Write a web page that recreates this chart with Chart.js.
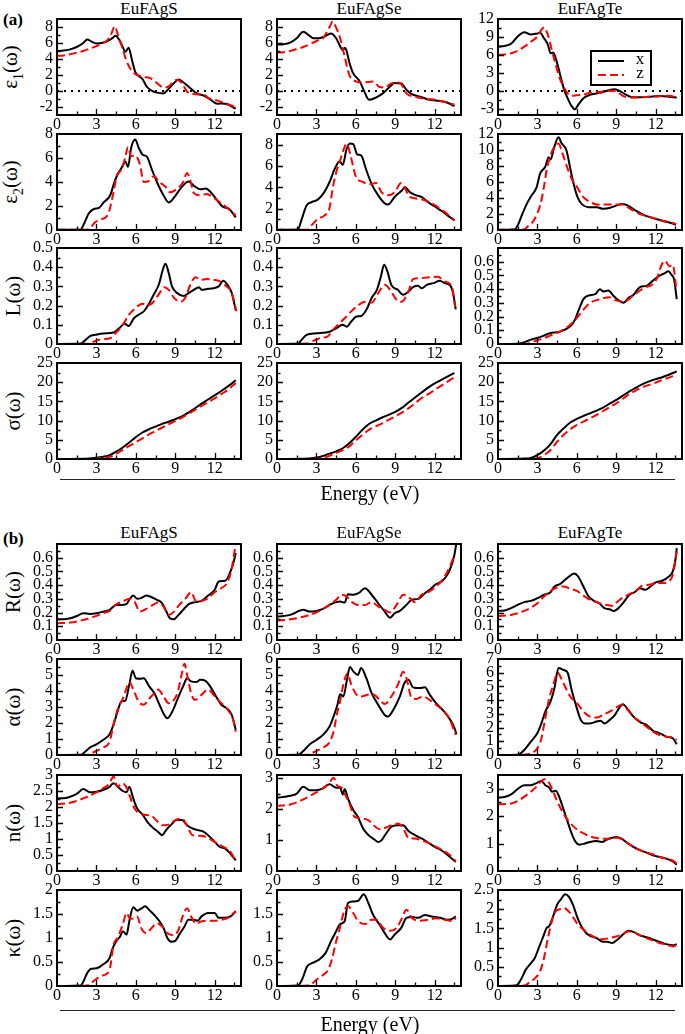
<!DOCTYPE html>
<html>
<head>
<meta charset="UTF-8">
<title>Optical spectra EuFAgX</title>
<script src="https://cdn.jsdelivr.net/npm/chart.js@4.4.1/dist/chart.umd.min.js"></script>
<style>
  body { margin:0; padding:0; background:#fff; }
  #page { position:relative; width:685px; height:1034px; overflow:hidden;
          font-family:'Liberation Serif','Times New Roman',serif; color:#000; }
  #page canvas { position:absolute; }
  .txt { position:absolute; white-space:nowrap; line-height:1; }
  .title { font-size:17px; transform:translate(-50%,-50%); }
  .panel { font-size:17px; font-weight:bold; transform:translate(0,-50%); }
  .ylab { font-size:21px; transform:translate(-50%,-50%) rotate(-90deg); }
  .ylab sub { font-size:14px; }
  .energy { font-size:20px; transform:translate(-50%,-50%); }
  .rule { position:absolute; height:1px; background:#222; }
</style>
</head>
<body>
<div id="page"></div>
<script>
// ---- data (energy in eV) ----
const compounds = ['EuFAgS', 'EuFAgSe', 'EuFAgTe'];
const seriesNames = ['x', 'z'];
const energyTicks = [0, 3, 6, 9, 12];

// eps1
const eps1_S_x = [[0,5.0],[0.5,5.05],[1,5.2],[1.5,5.5],[2,6.0],[2.3,6.45],[2.6,6.2],[3.0,5.95],[3.4,6.0],[3.8,6.2],[4.2,6.6],[4.45,6.9],[4.8,6.2],[5.0,5.5],[5.2,4.9],[5.45,5.4],[5.7,3.9],[5.95,2.4],[6.2,1.9],[6.5,1.5],[6.85,0.5],[7.2,0.05],[7.6,-0.2],[8.1,-0.3],[8.4,0.1],[8.9,1.0],[9.25,1.45],[9.6,1.1],[10.15,0.35],[10.65,-0.3],[11.2,-0.6],[11.7,-1.1],[12.2,-1.6],[12.55,-1.55],[12.95,-1.65],[13.6,-2.2]];
const eps1_S_z = [[0,4.4],[0.5,4.45],[1,4.6],[1.5,4.8],[2,5.0],[2.5,5.3],[3,5.6],[3.5,6.0],[3.8,6.3],[4.1,7.0],[4.4,8.1],[4.6,7.2],[4.95,5.5],[5.3,3.7],[5.7,2.5],[6.1,2.0],[6.6,1.75],[7.1,1.6],[7.6,1.0],[8.1,0.45],[8.4,0.5],[8.9,1.2],[9.1,1.4],[9.5,1.0],[9.9,-0.1],[10.3,-0.35],[10.8,-0.45],[11.2,-0.5],[11.55,-0.9],[12.2,-1.2],[12.9,-1.6],[13.6,-2.0]];
const eps1_Se_x = [[0,5.8],[0.5,5.85],[1,6.05],[1.5,6.6],[2.0,7.4],[2.4,7.0],[2.75,6.6],[3.2,6.6],[3.6,6.8],[4.1,7.2],[4.5,6.6],[4.8,5.6],[5.0,5.1],[5.15,5.4],[5.3,5.0],[5.5,3.6],[5.8,2.2],[6.3,1.2],[6.6,0.1],[7.0,-1.1],[7.55,-0.8],[8.05,-0.3],[8.6,0.55],[8.95,1.0],[9.45,0.95],[9.85,0.15],[10.25,-0.4],[10.9,-0.7],[11.6,-1.1],[12.1,-1.2],[12.9,-1.4],[13.5,-1.9]];
const eps1_Se_z = [[0,4.8],[0.5,4.85],[1,5.0],[1.5,5.25],[2,5.5],[2.5,5.85],[3,6.25],[3.5,6.6],[4.0,8.0],[4.25,8.7],[4.5,7.9],[4.77,6.8],[5.15,4.3],[5.5,2.0],[6.0,1.2],[6.5,1.05],[7.3,1.2],[7.8,0.5],[8.2,0.45],[8.6,0.85],[9.1,1.1],[9.5,0.75],[9.85,-0.3],[10.5,-0.7],[11.4,-1.0],[12.1,-1.1],[12.9,-1.45],[13.5,-1.7]];
const eps1_Te_x = [[0,7.4],[0.5,7.5],[1,7.9],[1.5,9.1],[2.0,9.8],[2.5,9.4],[3.0,9.6],[3.2,9.7],[3.5,8.8],[3.8,7.7],[4.0,6.3],[4.2,6.4],[4.5,4.6],[4.8,2.1],[5.0,0.4],[5.3,-1.2],[5.6,-2.5],[5.85,-3.05],[6.1,-2.3],[6.5,-1.2],[7.0,-0.65],[7.5,-0.4],[8.0,-0.17],[8.5,0.17],[8.8,0.28],[9.2,0.06],[9.7,-0.56],[10.2,-1.05],[10.8,-1.05],[11.5,-0.95],[12.3,-0.85],[13.0,-0.95],[13.6,-1.1]];
const eps1_Te_z = [[0,6.0],[0.5,6.1],[1,6.3],[1.5,6.7],[2,7.4],[2.5,8.2],[3.0,9.1],[3.3,10.2],[3.5,10.6],[3.8,9.3],[4.1,6.8],[4.4,4.3],[4.7,2.1],[5.0,0.7],[5.3,-0.4],[5.6,-0.8],[6.0,-0.7],[6.5,-0.6],[7.0,-0.3],[7.5,-0.2],[8.0,-0.1],[8.5,0.06],[9.0,-0.1],[9.5,-0.8],[10.0,-1.1],[10.5,-1.1],[11.0,-1.0],[12.0,-0.9],[13.0,-0.8],[13.6,-1.05]];

// eps2
const eps2_S_x = [[0,0.02],[1,0.03],[1.8,0.05],[2.05,0.5],[2.4,1.35],[2.8,1.75],[3.2,1.85],[3.55,2.3],[4.05,2.9],[4.4,4.1],[4.7,4.8],[4.95,5.25],[5.2,5.7],[5.4,5.25],[5.65,6.9],[5.95,7.55],[6.2,6.9],[6.5,6.3],[6.85,6.1],[7.2,5.1],[7.6,4.0],[8.1,2.9],[8.5,2.3],[8.9,2.7],[9.5,3.6],[10.0,4.05],[10.4,3.7],[10.9,3.4],[11.3,3.45],[11.7,3.15],[12.2,2.45],[12.6,1.95],[13.1,1.75],[13.6,1.05]];
const eps2_S_z = [[0,0.02],[1,0.02],[2.3,0.03],[2.55,0.2],[2.9,0.65],[3.4,0.9],[3.9,1.35],[4.3,3.15],[4.55,4.55],[4.95,5.1],[5.2,6.1],[5.4,6.9],[5.65,6.15],[5.95,6.2],[6.3,5.5],[6.6,4.0],[7.0,4.1],[7.4,4.5],[7.7,4.1],[8.25,3.6],[8.6,3.15],[9.1,3.4],[9.6,4.0],[9.9,4.75],[10.15,4.1],[10.4,3.1],[10.9,2.9],[11.4,3.0],[11.9,2.7],[12.4,2.3],[12.9,1.9],[13.6,1.2]];
const eps2_Se_x = [[0,0.02],[1,0.03],[1.6,0.05],[1.85,0.9],[2.25,2.3],[2.6,2.6],[3.1,2.85],[3.6,3.55],[4.0,4.5],[4.4,5.75],[4.77,6.45],[5.0,6.1],[5.3,7.6],[5.55,8.1],[5.8,8.05],[6.1,7.1],[6.4,7.0],[6.8,5.6],[7.2,4.3],[7.7,3.25],[8.2,2.5],[8.45,2.4],[8.95,3.1],[9.45,3.65],[9.75,4.0],[10.1,3.55],[10.6,3.25],[11.0,3.1],[11.5,2.6],[12.0,2.2],[12.5,1.8],[13.0,1.35],[13.5,0.9]];
const eps2_Se_z = [[0,0.02],[1,0.02],[2.3,0.03],[2.6,0.4],[3.1,1.05],[3.6,1.35],[4.0,2.1],[4.25,4.0],[4.55,5.6],[4.8,6.5],[5.0,7.3],[5.3,8.1],[5.65,6.7],[6.0,5.0],[6.55,4.5],[7.05,4.3],[7.55,4.4],[7.95,3.55],[8.45,3.25],[8.95,3.55],[9.45,4.4],[9.7,4.0],[10.1,3.1],[10.9,2.9],[11.6,2.6],[12.4,2.0],[13.1,1.35],[13.5,0.9]];
const eps2_Te_x = [[0,0.03],[1,0.05],[1.3,0.1],[1.55,0.75],[1.8,1.8],[2.2,3.3],[2.55,4.3],[2.95,5.4],[3.2,7.05],[3.6,7.9],[3.85,9.1],[4.0,8.8],[4.25,10.2],[4.6,11.6],[4.85,10.8],[5.2,10.0],[5.5,7.7],[5.75,5.8],[6.05,4.1],[6.4,3.2],[6.9,2.85],[7.5,2.85],[8.0,2.65],[8.5,2.75],[9.0,3.05],[9.5,3.25],[9.9,3.05],[10.55,2.35],[11.2,1.8],[11.8,1.5],[12.5,1.15],[13.1,0.9],[13.55,0.65]];
const eps2_Te_z = [[0,0.03],[1,0.03],[2.0,0.05],[2.2,0.35],[2.7,1.15],[3.2,3.05],[3.45,4.95],[3.7,7.5],[4.0,9.35],[4.35,10.6],[4.6,10.8],[4.9,9.6],[5.25,7.9],[5.6,6.4],[6.0,5.4],[6.5,4.1],[7.0,3.5],[7.65,3.15],[8.3,3.2],[9.0,3.2],[9.5,3.2],[10.05,2.65],[10.8,2.0],[11.6,1.6],[12.3,1.25],[13.1,0.95],[13.55,0.75]];

// energy loss L
const loss_S_x = [[0,0],[1.8,0.002],[2.15,0.02],[2.55,0.042],[3.05,0.05],[3.55,0.055],[4.3,0.06],[4.7,0.08],[5.15,0.105],[5.45,0.094],[5.85,0.134],[6.2,0.152],[6.6,0.17],[7.0,0.21],[7.35,0.256],[7.75,0.31],[8.05,0.387],[8.25,0.418],[8.5,0.37],[8.75,0.3],[9.15,0.265],[9.65,0.25],[10.0,0.265],[10.4,0.282],[10.8,0.296],[11.0,0.282],[11.4,0.286],[11.9,0.29],[12.3,0.3],[12.65,0.33],[13.05,0.3],[13.3,0.265],[13.6,0.175]];
const loss_S_z = [[0,0],[2.5,0.002],[2.8,0.012],[3.3,0.024],[4.05,0.03],[4.45,0.056],[4.95,0.094],[5.45,0.15],[5.95,0.186],[6.5,0.21],[7.0,0.204],[7.35,0.22],[7.8,0.265],[8.15,0.296],[8.5,0.282],[8.9,0.24],[9.4,0.22],[9.75,0.24],[10.15,0.31],[10.55,0.348],[10.9,0.334],[11.4,0.338],[11.9,0.334],[12.4,0.326],[12.9,0.3],[13.3,0.265],[13.65,0.17]];
const loss_Se_x = [[0,0],[1.6,0.002],[1.85,0.02],[2.25,0.047],[3.0,0.056],[4.0,0.064],[4.5,0.082],[5.0,0.1],[5.3,0.09],[5.65,0.117],[6.05,0.143],[6.4,0.146],[6.8,0.178],[7.2,0.24],[7.6,0.282],[7.9,0.35],[8.15,0.413],[8.4,0.378],[8.7,0.308],[9.2,0.282],[9.6,0.256],[10.0,0.273],[10.35,0.296],[10.75,0.303],[11.0,0.29],[11.4,0.308],[11.9,0.317],[12.4,0.33],[12.75,0.317],[13.2,0.303],[13.4,0.265],[13.6,0.18]];
const loss_Se_z = [[0,0],[2.3,0.002],[2.6,0.012],[3.25,0.03],[3.9,0.042],[4.25,0.073],[4.75,0.108],[5.15,0.134],[5.65,0.17],[6.15,0.2],[6.7,0.22],[7.2,0.216],[7.7,0.265],[8.2,0.308],[8.6,0.282],[9.1,0.23],[9.45,0.22],[10.0,0.273],[10.35,0.338],[10.85,0.343],[11.6,0.348],[12.25,0.35],[12.75,0.326],[13.3,0.3],[13.55,0.195]];
const loss_Te_x = [[0,0],[1.5,0.002],[1.95,0.012],[2.45,0.03],[3.2,0.05],[3.95,0.078],[4.7,0.09],[5.5,0.13],[5.85,0.175],[6.1,0.237],[6.5,0.327],[6.9,0.354],[7.4,0.363],[7.75,0.4],[8.0,0.383],[8.4,0.39],[8.8,0.35],[9.15,0.32],[9.55,0.3],[9.9,0.334],[10.3,0.358],[10.8,0.415],[11.3,0.424],[11.8,0.463],[12.2,0.493],[12.7,0.517],[12.95,0.53],[13.2,0.505],[13.4,0.47],[13.6,0.327]];
const loss_Te_z = [[0,0],[2.2,0.002],[2.7,0.017],[3.45,0.041],[4.2,0.07],[4.7,0.09],[5.5,0.14],[6.0,0.19],[6.5,0.25],[7.0,0.3],[7.5,0.32],[8.0,0.334],[8.5,0.34],[8.9,0.32],[9.4,0.31],[9.8,0.317],[10.2,0.346],[10.7,0.383],[11.2,0.415],[11.7,0.43],[12.1,0.48],[12.45,0.578],[12.7,0.607],[13.05,0.566],[13.3,0.578],[13.55,0.42]];

// conductivity sigma
const sig_S_x = [[0,0],[2,0.05],[3,0.35],[3.5,0.6],[4,1.0],[4.5,1.9],[5,3.0],[5.5,4.3],[6,5.7],[6.5,6.9],[7,7.75],[7.5,8.45],[8,9.15],[8.5,9.7],[9,10.4],[9.5,11.1],[10,12.1],[10.5,13.2],[11,14.4],[11.5,15.5],[12,16.6],[12.5,17.7],[13,18.9],[13.6,20.5]];
const sig_S_z = [[0,0],[2.5,0.02],[3,0.1],[3.5,0.25],[4,0.55],[4.5,1.3],[5,2.4],[5.5,3.4],[6,4.4],[6.5,5.4],[7,6.4],[7.5,7.3],[8,8.2],[8.5,9.0],[9,9.9],[9.5,10.8],[10,11.8],[10.5,12.8],[11,13.8],[11.5,14.8],[12,15.8],[12.5,16.9],[13,18.0],[13.6,19.8]];
const sig_Se_x = [[0,0],[2,0.05],[3,0.4],[3.5,0.8],[4,1.4],[4.5,2.0],[5,2.8],[5.5,4.1],[6,5.8],[6.5,7.6],[7,9.1],[7.5,10.0],[8,10.8],[8.5,11.5],[9,12.3],[9.5,13.3],[10,14.7],[10.5,16.0],[11,17.3],[11.5,18.6],[12,19.7],[12.5,20.6],[13,21.5],[13.5,22.4]];
const sig_Se_z = [[0,0],[2.5,0.02],[3,0.1],[3.5,0.3],[4,0.8],[4.5,1.6],[5,2.3],[5.5,3.3],[6,4.8],[6.5,6.3],[7,7.6],[7.5,8.45],[8,9.3],[8.5,10.2],[9,11.1],[9.5,12.1],[10,13.2],[10.5,14.5],[11,15.9],[11.5,16.9],[12,18.0],[12.5,19.1],[13,20.2],[13.5,21.3]];
const sig_Te_x = [[0,0],[1.5,0.05],[2,0.1],[2.5,0.3],[3,1.0],[3.5,2.2],[4,3.9],[4.5,6.3],[5,8.0],[5.5,9.5],[6,10.45],[6.5,11.2],[7,11.9],[7.5,12.6],[8,13.4],[8.5,14.4],[9,15.4],[9.5,16.5],[10,17.6],[10.5,18.6],[11,19.5],[11.5,20.2],[12,20.8],[12.5,21.3],[13,21.95],[13.6,22.8]];
const sig_Te_z = [[0,0],[2.5,0.03],[3,0.2],[3.5,1.0],[4,2.35],[4.5,4.5],[5,6.3],[5.5,7.75],[6,8.9],[6.5,9.75],[7,10.6],[7.5,11.5],[8,12.5],[8.5,13.5],[9,14.5],[9.5,15.7],[10,16.9],[10.5,17.9],[11,18.7],[11.5,19.3],[12,19.9],[12.5,20.6],[13,21.2],[13.6,21.95]];

// reflectivity R
const refl_S_x = [[0,0.151],[0.5,0.151],[1,0.158],[1.5,0.175],[2,0.195],[2.5,0.19],[3,0.195],[3.5,0.207],[4,0.22],[4.5,0.256],[5,0.256],[5.3,0.263],[5.5,0.293],[5.8,0.324],[6.1,0.3],[6.4,0.305],[6.8,0.324],[7.2,0.312],[7.6,0.293],[8.0,0.268],[8.3,0.212],[8.6,0.158],[8.9,0.151],[9.2,0.178],[9.6,0.22],[10,0.26],[10.5,0.276],[11,0.285],[11.5,0.324],[12,0.366],[12.3,0.427],[12.8,0.432],[13.2,0.5],[13.45,0.573],[13.6,0.634]];
const refl_S_z = [[0,0.122],[1,0.127],[2,0.146],[3,0.176],[3.5,0.195],[4,0.212],[4.5,0.26],[5,0.28],[5.5,0.3],[5.9,0.28],[6.3,0.207],[6.8,0.227],[7.3,0.256],[7.7,0.273],[8.1,0.244],[8.5,0.183],[8.9,0.207],[9.3,0.256],[9.8,0.305],[10.2,0.349],[10.6,0.28],[11,0.285],[11.5,0.305],[12,0.349],[12.5,0.378],[13,0.427],[13.3,0.524],[13.55,0.67],[13.65,0.7]];
const refl_Se_x = [[0,0.17],[1,0.183],[2,0.22],[2.5,0.207],[3,0.212],[3.5,0.227],[4,0.256],[4.5,0.276],[4.8,0.28],[5.15,0.273],[5.4,0.334],[5.8,0.33],[6.2,0.341],[6.7,0.378],[7.2,0.33],[7.7,0.268],[8.2,0.207],[8.6,0.163],[8.95,0.195],[9.35,0.212],[9.85,0.256],[10.25,0.293],[10.75,0.3],[11.25,0.341],[11.6,0.366],[12.1,0.407],[12.6,0.432],[13.1,0.5],[13.5,0.622],[13.65,0.707]];
const refl_Se_z = [[0,0.141],[1,0.151],[2,0.17],[3,0.202],[4,0.256],[4.5,0.293],[4.9,0.33],[5.3,0.317],[5.65,0.28],[6.15,0.256],[6.7,0.256],[7.2,0.276],[7.7,0.244],[8.2,0.22],[8.6,0.2],[9.1,0.256],[9.6,0.33],[10.1,0.305],[10.5,0.276],[11,0.33],[11.5,0.349],[12.1,0.39],[12.6,0.44],[13.1,0.524],[13.5,0.622]];
const refl_Te_x = [[0,0.212],[0.5,0.215],[1,0.232],[1.5,0.256],[2,0.276],[2.5,0.285],[3,0.305],[3.5,0.33],[4,0.349],[4.3,0.39],[4.7,0.407],[5.1,0.439],[5.5,0.47],[5.8,0.485],[6.1,0.463],[6.5,0.39],[6.9,0.317],[7.3,0.285],[7.7,0.268],[8.1,0.232],[8.5,0.224],[8.8,0.212],[9.1,0.227],[9.5,0.268],[10,0.33],[10.4,0.349],[10.8,0.378],[11.2,0.366],[11.6,0.39],[12,0.42],[12.5,0.432],[13,0.463],[13.3,0.5],[13.5,0.585],[13.6,0.67]];
const refl_Te_z = [[0,0.175],[1,0.183],[2,0.212],[3,0.268],[3.5,0.317],[4,0.358],[4.5,0.383],[5,0.39],[5.5,0.373],[6,0.358],[6.5,0.324],[7,0.293],[7.5,0.276],[8,0.26],[8.3,0.256],[8.7,0.249],[9.1,0.28],[9.5,0.31],[10,0.334],[10.5,0.358],[11,0.398],[11.5,0.402],[12,0.415],[12.5,0.415],[13,0.427],[13.3,0.476],[13.6,0.646]];

// absorption alpha
const abs_S_x = [[0,0],[1.8,0.01],[2.0,0.1],[2.5,0.46],[3,0.67],[3.5,0.94],[4,1.3],[4.3,1.9],[4.6,2.7],[4.9,3.35],[5.2,3.4],[5.5,4.4],[5.75,5.27],[6.0,4.8],[6.3,4.77],[6.6,4.8],[7.0,4.3],[7.4,3.87],[7.8,3.14],[8.1,2.6],[8.4,2.3],[8.8,2.76],[9.2,3.56],[9.6,4.3],[9.9,4.8],[10.2,4.6],[10.6,4.56],[10.9,4.7],[11.3,4.64],[11.7,4.23],[12.1,3.66],[12.5,3.14],[12.9,2.93],[13.3,2.5],[13.6,1.57]];
const abs_S_z = [[0,0],[2.3,0.01],[2.6,0.1],[3,0.25],[3.5,0.46],[4,0.84],[4.3,1.9],[4.6,2.82],[5,3.5],[5.3,4.2],[5.5,4.56],[5.8,4.1],[6.2,3.35],[6.6,3.14],[7,3.5],[7.4,3.87],[7.7,4.1],[8.1,3.66],[8.5,3.24],[8.9,3.45],[9.2,3.97],[9.5,5.1],[9.7,5.7],[9.9,5.0],[10.2,3.87],[10.5,3.45],[11,3.77],[11.5,4.1],[12,3.66],[12.5,3.24],[13,2.82],[13.4,2.2],[13.6,1.46]];
const abs_Se_x = [[0,0],[1.6,0.01],[2,0.25],[2.5,0.67],[3,0.94],[3.5,1.26],[4,1.78],[4.3,2.4],[4.6,3.14],[4.8,3.8],[5.05,3.66],[5.3,4.6],[5.55,5.5],[5.8,5.23],[6.15,5.0],[6.4,5.44],[6.8,4.8],[7.2,3.87],[7.7,3.14],[8.2,2.5],[8.45,2.4],[8.85,2.82],[9.35,3.66],[9.7,4.5],[10.0,4.7],[10.35,4.23],[10.85,4.18],[11.25,4.23],[11.6,3.8],[12.1,3.24],[12.6,2.82],[13.1,2.3],[13.5,1.7],[13.65,1.3]];
const abs_Se_z = [[0,0],[2.3,0.01],[2.6,0.1],[3,0.25],[3.5,0.46],[4,0.8],[4.3,1.46],[4.6,2.7],[4.8,3.35],[5.05,4.4],[5.35,5.1],[5.65,4.4],[6.05,3.77],[6.4,3.66],[6.9,3.77],[7.3,3.8],[7.8,3.45],[8.2,3.18],[8.7,3.66],[9.2,4.4],[9.6,5.2],[9.85,4.8],[10.25,3.56],[10.6,3.5],[11.1,3.66],[11.6,3.45],[12.1,3.14],[12.6,2.82],[13.1,2.3],[13.6,1.25]];
const abs_Te_x = [[0,0],[1.5,0.02],[2,0.37],[2.5,0.98],[3,1.6],[3.3,2.3],[3.6,3.17],[4.0,3.9],[4.3,4.9],[4.6,6.34],[5.0,6.2],[5.3,6.0],[5.6,4.75],[6.0,3.4],[6.3,2.56],[6.6,2.3],[7.0,2.3],[7.5,2.44],[7.8,2.5],[8.1,2.3],[8.5,2.56],[8.9,2.93],[9.2,3.4],[9.5,3.7],[9.9,3.3],[10.3,2.8],[10.8,2.4],[11.3,2.2],[11.8,1.76],[12.3,1.6],[12.8,1.34],[13.3,1.22],[13.6,0.78]];
const abs_Te_z = [[0,0],[2.0,0.02],[2.5,0.12],[3,0.5],[3.3,1.2],[3.6,2.7],[3.9,4.15],[4.2,5.1],[4.55,6.0],[4.8,5.6],[5.1,5.0],[5.5,4.27],[6.0,3.78],[6.5,3.17],[7.0,2.8],[7.5,2.73],[8.0,2.93],[8.5,3.17],[9.0,3.46],[9.4,3.66],[9.8,3.37],[10.3,2.8],[10.8,2.44],[11.3,2.07],[11.8,1.7],[12.3,1.46],[12.8,1.34],[13.3,1.27],[13.6,1.1]];

// refractive index n
const n_S_x = [[0,2.27],[0.5,2.27],[1,2.32],[1.5,2.41],[2,2.56],[2.5,2.46],[3,2.48],[3.5,2.53],[4,2.63],[4.3,2.74],[4.7,2.6],[5.0,2.5],[5.3,2.46],[5.5,2.63],[5.8,2.27],[6.1,1.95],[6.5,1.77],[6.9,1.52],[7.3,1.35],[7.7,1.22],[8.0,1.12],[8.3,1.28],[8.7,1.45],[9.1,1.59],[9.5,1.59],[9.9,1.43],[10.3,1.33],[10.7,1.28],[11.1,1.24],[11.5,1.12],[12,0.91],[12.4,0.75],[12.8,0.7],[13.2,0.54],[13.6,0.33]];
const n_S_z = [[0,2.09],[1,2.13],[2,2.27],[3,2.46],[3.5,2.58],[4,2.74],[4.3,2.95],[4.6,2.63],[5.0,2.74],[5.3,2.6],[5.6,2.27],[5.9,1.95],[6.3,1.8],[6.8,1.75],[7.2,1.72],[7.6,1.56],[8.0,1.43],[8.5,1.45],[9.0,1.59],[9.5,1.64],[9.9,1.41],[10.3,1.12],[10.8,1.1],[11.3,1.07],[11.8,0.96],[12.3,0.83],[12.8,0.72],[13.2,0.6],[13.6,0.3]];
const n_Se_x = [[0,2.36],[1,2.43],[1.5,2.5],[2,2.72],[2.5,2.61],[3,2.61],[3.5,2.67],[4,2.8],[4.5,2.69],[4.8,2.69],[5.0,2.47],[5.15,2.65],[5.4,2.34],[5.8,1.97],[6.15,1.75],[6.55,1.37],[6.95,1.16],[7.3,1.05],[7.7,0.94],[7.95,0.99],[8.3,1.21],[8.7,1.43],[9.2,1.48],[9.6,1.48],[10.0,1.29],[10.5,1.16],[11,1.05],[11.5,0.92],[12,0.78],[12.5,0.67],[13,0.51],[13.6,0.29]];
const n_Se_z = [[0,2.1],[1,2.15],[2,2.31],[3,2.54],[3.5,2.67],[4,2.86],[4.3,3.01],[4.6,2.75],[4.9,2.69],[5.15,2.5],[5.55,2.13],[5.9,1.75],[6.4,1.7],[6.95,1.64],[7.3,1.5],[7.8,1.35],[8.2,1.39],[8.7,1.48],[9.2,1.53],[9.6,1.39],[10.0,1.07],[10.5,1.05],[11,0.99],[11.6,0.89],[12.1,0.78],[12.6,0.67],[13.1,0.53],[13.6,0.31]];
const n_Te_x = [[0,2.67],[0.5,2.7],[1,2.79],[1.5,2.99],[2,3.13],[2.5,3.13],[3,3.22],[3.3,3.28],[3.6,3.13],[3.9,3.04],[4.1,2.89],[4.4,2.93],[4.7,2.65],[5.0,2.22],[5.3,1.79],[5.6,1.37],[5.9,1.06],[6.2,0.96],[6.6,1.0],[7.0,1.06],[7.5,1.09],[7.9,1.06],[8.3,1.15],[8.7,1.21],[9.0,1.24],[9.4,1.18],[9.8,1.04],[10.3,0.88],[10.8,0.76],[11.3,0.67],[11.8,0.57],[12.3,0.51],[12.8,0.45],[13.3,0.35],[13.6,0.23]];
const n_Te_z = [[0,2.43],[1,2.46],[1.5,2.55],[2,2.71],[2.5,2.89],[3,3.11],[3.3,3.28],[3.6,3.35],[3.9,3.2],[4.2,2.9],[4.5,2.55],[4.8,2.25],[5.1,2.0],[5.4,1.8],[5.8,1.6],[6.2,1.45],[6.6,1.35],[7.0,1.26],[7.5,1.2],[8.0,1.18],[8.5,1.18],[9.0,1.21],[9.4,1.16],[9.8,1.04],[10.3,0.88],[10.8,0.76],[11.3,0.67],[11.8,0.6],[12.3,0.51],[12.8,0.45],[13.3,0.38],[13.6,0.27]];

// extinction kappa
const kap_S_x = [[0,0],[1.8,0.01],[2,0.09],[2.3,0.27],[2.6,0.36],[3.0,0.37],[3.5,0.45],[4.0,0.58],[4.2,0.76],[4.5,0.93],[4.8,1.03],[5.0,1.14],[5.3,1.07],[5.5,1.35],[5.8,1.64],[6.1,1.57],[6.4,1.61],[6.7,1.66],[7.0,1.59],[7.4,1.48],[7.8,1.35],[8.1,1.21],[8.4,1.0],[8.7,0.92],[9.0,0.94],[9.3,1.07],[9.7,1.24],[10.0,1.38],[10.4,1.38],[10.7,1.36],[11.0,1.45],[11.5,1.52],[12,1.52],[12.3,1.42],[12.7,1.42],[13.2,1.45],[13.6,1.55]];
const kap_S_z = [[0,0],[2.3,0.01],[2.6,0.06],[3,0.15],[3.5,0.22],[4,0.34],[4.3,0.86],[4.6,1.0],[5.0,1.28],[5.3,1.52],[5.5,1.42],[5.8,1.4],[6.1,1.45],[6.4,1.21],[6.8,1.1],[7.2,1.21],[7.6,1.31],[8.0,1.24],[8.4,1.1],[8.8,1.06],[9.2,1.14],[9.6,1.48],[9.9,1.62],[10.2,1.45],[10.6,1.3],[11,1.35],[11.5,1.36],[12,1.36],[12.5,1.38],[13,1.42],[13.6,1.56]];
const kap_Se_x = [[0,0],[1.6,0.01],[1.9,0.13],[2.3,0.41],[2.7,0.48],[3.2,0.55],[3.7,0.69],[4.1,0.93],[4.5,1.14],[4.8,1.29],[5.15,1.35],[5.4,1.73],[5.8,1.76],[6.15,1.77],[6.6,1.91],[6.95,1.73],[7.3,1.49],[7.8,1.28],[8.2,1.1],[8.6,0.97],[8.95,1.07],[9.45,1.21],[9.85,1.42],[10.25,1.44],[10.75,1.42],[11.25,1.48],[11.75,1.45],[12.4,1.42],[13.0,1.38],[13.4,1.41],[13.6,1.45]];
const kap_Se_z = [[0,0],[2.3,0.01],[2.6,0.03],[3,0.13],[3.5,0.23],[3.9,0.34],[4.2,0.58],[4.5,0.93],[4.7,1.12],[4.95,1.4],[5.15,1.59],[5.4,1.66],[5.8,1.52],[6.15,1.36],[6.7,1.29],[7.2,1.38],[7.55,1.38],[8.05,1.22],[8.6,1.15],[9.1,1.21],[9.45,1.38],[9.85,1.59],[10.25,1.42],[10.85,1.36],[11.5,1.38],[12.1,1.41],[12.75,1.38],[13.4,1.35],[13.6,1.42]];
const kap_Te_x = [[0,0],[1.3,0.01],[1.5,0.04],[1.8,0.2],[2.1,0.42],[2.5,0.59],[2.8,0.73],[3.1,0.99],[3.4,1.25],[3.7,1.51],[3.9,1.56],[4.2,1.82],[4.5,2.12],[4.8,2.26],[5.1,2.39],[5.4,2.32],[5.7,2.12],[6.0,1.82],[6.3,1.58],[6.7,1.38],[7.1,1.29],[7.5,1.25],[7.9,1.16],[8.3,1.15],[8.7,1.12],[9.1,1.21],[9.5,1.34],[9.9,1.44],[10.3,1.41],[10.8,1.32],[11.3,1.27],[11.8,1.21],[12.3,1.15],[12.8,1.09],[13.3,1.06],[13.6,1.09]];
const kap_Te_z = [[0,0],[2.0,0.01],[2.3,0.07],[2.8,0.2],[3.2,0.38],[3.5,0.73],[3.8,1.25],[4.1,1.69],[4.4,1.95],[4.7,2.0],[5.0,2.03],[5.5,1.9],[6.0,1.64],[6.5,1.47],[7.0,1.34],[7.5,1.25],[8.0,1.22],[8.5,1.25],[9.0,1.29],[9.5,1.35],[9.9,1.42],[10.3,1.4],[10.8,1.32],[11.3,1.25],[11.8,1.18],[12.3,1.12],[12.8,1.08],[13.3,1.03],[13.6,1.06]];

// y axes: [min,max] per compound, and the labelled ticks
const eps1Range = [[-3,9],[-3,9],[-4,12]];
const eps1Ticks = [[-2,0,2,4,6,8],[-2,0,2,4,6,8],[-3,0,3,6,9,12]];
const eps2Range = [[0,8],[0,9],[0,12]];
const eps2Ticks = [[0,2,4,6,8],[0,2,4,6,8],[0,2,4,6,8,10,12]];
const lossRange = [[0,0.5],[0,0.5],[0,0.7]];
const lossTicks = [[0,0.1,0.2,0.3,0.4,0.5],[0,0.1,0.2,0.3,0.4,0.5],[0,0.1,0.2,0.3,0.4,0.5,0.6]];
const sigRange = [[0,25],[0,25],[0,25]];
const sigTicks = [[0,5,10,15,20,25],[0,5,10,15,20,25],[0,5,10,15,20,25]];
const reflRange = [[0,0.7],[0,0.7],[0,0.7]];
const reflTicks = [[0,0.1,0.2,0.3,0.4,0.5,0.6],[0,0.1,0.2,0.3,0.4,0.5,0.6],[0,0.1,0.2,0.3,0.4,0.5,0.6]];
const absRange = [[0,6],[0,6],[0,7]];
const absTicks = [[0,1,2,3,4,5,6],[0,1,2,3,4,5,6],[0,1,2,3,4,5,6,7]];
const nRange = [[0,3],[0,3.1],[0,3.5]];
const nTicks = [[0,0.5,1,1.5,2,2.5,3],[0,1,2,3],[0,1,2,3]];
const kapRange = [[0,2],[0,2],[0,2.5]];
const kapTicks = [[0,0.5,1,1.5,2],[0,0.5,1,1.5,2],[0,0.5,1,1.5,2,2.5]];

// ---- layout ----
const page = document.getElementById('page');
const colLeft = [57, 277, 498];
const plotW = 184, plotH = 96;
const padL = 50, padT = 10, padR = 8, padB = 22;
const serif = "'Liberation Serif', 'Times New Roman', serif";
const tickFont = { family: serif, size: 16 };

Chart.defaults.font.family = serif;
Chart.defaults.font.size = 16;
Chart.defaults.color = '#000';

function fmt(v) { return String(+(+v).toFixed(2)); }

const framePlugin = {
  id: 'frame',
  afterDatasetsDraw(chart, args, opts) {
    const {ctx, chartArea: a, scales} = chart;
    const xs = scales.x, ys = scales.y;
    ctx.save();
    ctx.strokeStyle = '#000';
    ctx.lineWidth = 1.3;
    ctx.beginPath();
    // x: major every 3 eV, minor every 1.5 eV, pointing inward
    for (let i = 1; i * 1.5 < 14; i++) {
      const px = Math.round(xs.getPixelForValue(i * 1.5)) + 0.5;
      const len = i % 2 === 0 ? 6 : 3.5;
      ctx.moveTo(px, a.bottom); ctx.lineTo(px, a.bottom - len);
    }
    const majors = ys.ticks.map(t => t.value);
    const step = opts.minor;
    const first = Math.ceil(ys.min / step - 1e-6);
    const last = Math.floor(ys.max / step + 1e-6);
    for (let k = first; k <= last; k++) {
      const v = k * step;
      if (Math.abs(v - ys.min) < 1e-6 || Math.abs(v - ys.max) < 1e-6) continue;
      const py = Math.round(ys.getPixelForValue(v)) + 0.5;
      const isMajor = majors.some(m => Math.abs(m - v) < 1e-6);
      const len = isMajor ? 6 : 3.5;
      ctx.moveTo(a.left, py); ctx.lineTo(a.left + len, py);
    }
    ctx.stroke();
    ctx.lineWidth = 2;
    ctx.strokeRect(a.left, a.top, a.width, a.height);

    if (opts.legend) {
      const ds = chart.data.datasets;
      const bx = a.left + 93, by = a.top + 32, bw = 60, bh = 34;
      ctx.fillStyle = '#fff';
      ctx.fillRect(bx, by, bw, bh);
      ctx.strokeRect(bx, by, bw, bh);
      const rows = [[ds[1], 10, seriesNames[0]], [ds[0], 24, seriesNames[1]]];
      ctx.font = '17px ' + serif;
      ctx.textAlign = 'center';
      ctx.textBaseline = 'middle';
      rows.forEach(([d, dy, name]) => {
        ctx.beginPath();
        ctx.strokeStyle = d.borderColor;
        ctx.lineWidth = d.borderWidth;
        ctx.setLineDash(d.borderDash || []);
        ctx.moveTo(bx + 7, by + dy); ctx.lineTo(bx + 33, by + dy);
        ctx.stroke();
        ctx.setLineDash([]);
        ctx.fillStyle = '#000';
        ctx.fillText(name, bx + 49, by + dy - 1);
      });
    }
    ctx.restore();
  }
};

function makePlot(left, top, xData, zData, range, ticks, minor, zeroLine, legend) {
  const cv = document.createElement('canvas');
  cv.width = plotW + padL + padR;
  cv.height = plotH + padT + padB;
  cv.style.left = (left - padL) + 'px';
  cv.style.top = (top - padT) + 'px';
  page.appendChild(cv);

  const datasets = [
    { label: seriesNames[1], data: zData, borderColor: '#ff0000', borderDash: [8, 4], borderWidth: 2 },
    { label: seriesNames[0], data: xData, borderColor: '#000000', borderWidth: 2 }
  ];
  if (zeroLine) {
    datasets.push({ label: 'zero', data: [[0, 0], [14, 0]], borderColor: '#000000',
                    borderDash: [2, 5], borderWidth: 2, cubicInterpolationMode: 'default', tension: 0 });
  }

  new Chart(cv, {
    type: 'line',
    data: { datasets },
    options: {
      responsive: false,
      animation: false,
      events: [],
      layout: { padding: { left: 0, top: padT, right: padR, bottom: 0 } },
      elements: {
        point: { radius: 0 },
        line: { cubicInterpolationMode: 'monotone', fill: false, borderCapStyle: 'butt' }
      },
      plugins: {
        legend: { display: false },
        tooltip: { enabled: false },
        frame: { minor: minor, legend: legend }
      },
      scales: {
        x: {
          type: 'linear', min: 0, max: 14,
          grid: { display: false, drawTicks: false },
          border: { display: false },
          ticks: { padding: 0, maxRotation: 0, autoSkip: false, callback: fmt, font: tickFont, color: '#000' },
          afterBuildTicks: s => { s.ticks = energyTicks.map(v => ({ value: v })); },
          afterFit: s => { s.height = padB; s.paddingLeft = 0; s.paddingRight = 0; }
        },
        y: {
          type: 'linear', min: range[0], max: range[1],
          grid: { display: false, drawTicks: false },
          border: { display: false },
          ticks: { padding: 4, autoSkip: false, callback: fmt, font: tickFont, color: '#000' },
          afterBuildTicks: s => { s.ticks = ticks.map(v => ({ value: v })); },
          afterFit: s => { s.width = padL; s.paddingTop = 0; s.paddingBottom = 0; }
        }
      }
    },
    plugins: [framePlugin]
  });
}

function addText(cls, html, x, y) {
  const d = document.createElement('div');
  d.className = 'txt ' + cls;
  d.innerHTML = html;
  d.style.left = x + 'px';
  d.style.top = y + 'px';
  page.appendChild(d);
}

const panels = [
  {
    tag: '(a)', tagY: 18.5, titleY: 7.5, ruleY: 479, energyY: 493,
    tops: [19, 134, 248, 363],
    rows: [
      { label: 'ε<sub>1</sub>(ω)', series: [[eps1_S_x, eps1_S_z], [eps1_Se_x, eps1_Se_z], [eps1_Te_x, eps1_Te_z]], range: eps1Range, ticks: eps1Ticks, minor: [1, 1, 1.5], zero: true },
      { label: 'ε<sub>2</sub>(ω)', series: [[eps2_S_x, eps2_S_z], [eps2_Se_x, eps2_Se_z], [eps2_Te_x, eps2_Te_z]], range: eps2Range, ticks: eps2Ticks, minor: [1, 1, 1] },
      { label: 'L(ω)', series: [[loss_S_x, loss_S_z], [loss_Se_x, loss_Se_z], [loss_Te_x, loss_Te_z]], range: lossRange, ticks: lossTicks, minor: [0.05, 0.05, 0.05] },
      { label: 'σ(ω)', series: [[sig_S_x, sig_S_z], [sig_Se_x, sig_Se_z], [sig_Te_x, sig_Te_z]], range: sigRange, ticks: sigTicks, minor: [2.5, 2.5, 2.5] }
    ]
  },
  {
    tag: '(b)', tagY: 538, titleY: 532, ruleY: 1010, energyY: 1024,
    tops: [544, 659, 775, 890],
    rows: [
      { label: 'R(ω)', series: [[refl_S_x, refl_S_z], [refl_Se_x, refl_Se_z], [refl_Te_x, refl_Te_z]], range: reflRange, ticks: reflTicks, minor: [0.05, 0.05, 0.05] },
      { label: 'α(ω)', series: [[abs_S_x, abs_S_z], [abs_Se_x, abs_Se_z], [abs_Te_x, abs_Te_z]], range: absRange, ticks: absTicks, minor: [0.5, 0.5, 0.5] },
      { label: 'n(ω)', series: [[n_S_x, n_S_z], [n_Se_x, n_Se_z], [n_Te_x, n_Te_z]], range: nRange, ticks: nTicks, minor: [0.25, 0.5, 0.5] },
      { label: 'κ(ω)', series: [[kap_S_x, kap_S_z], [kap_Se_x, kap_Se_z], [kap_Te_x, kap_Te_z]], range: kapRange, ticks: kapTicks, minor: [0.25, 0.25, 0.25] }
    ]
  }
];

panels.forEach((p, pi) => {
  addText('panel', p.tag, 3, p.tagY);
  compounds.forEach((c, ci) => addText('title', c, colLeft[ci] + plotW / 2, p.titleY));
  p.rows.forEach((row, ri) => {
    const top = p.tops[ri];
    addText('ylab', row.label, 13, top + plotH / 2);
    row.series.forEach((s, ci) => {
      const legend = pi === 0 && ri === 0 && ci === 2;
      makePlot(colLeft[ci], top, s[0], s[1], row.range[ci], row.ticks[ci], row.minor[ci], !!row.zero, legend);
    });
  });
  const rule = document.createElement('div');
  rule.className = 'rule';
  rule.style.left = '60px';
  rule.style.width = '615px';
  rule.style.top = p.ruleY + 'px';
  page.appendChild(rule);
  addText('energy', 'Energy (eV)', 370, p.energyY);
});
</script>
</body>
</html>
